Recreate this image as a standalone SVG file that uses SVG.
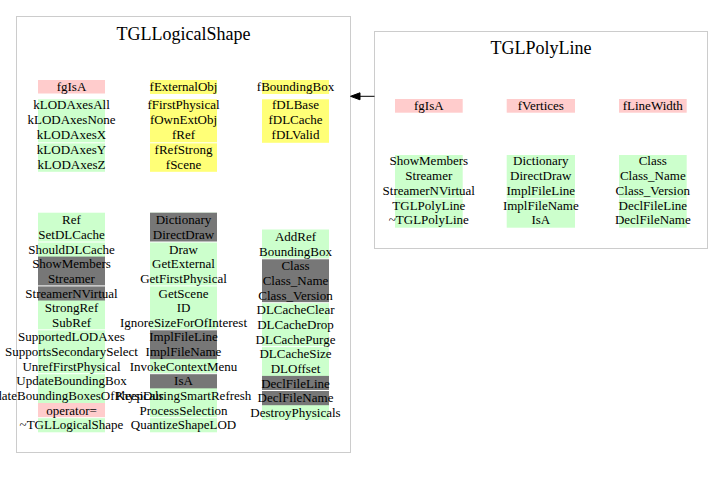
<svg xmlns="http://www.w3.org/2000/svg" width="723" height="480" viewBox="0 0 723 480">
<style>
.box{fill:#ffffff;stroke:#cccccc;stroke-width:1}
.pk{fill:#ffcccc}
.gr{fill:#ccffcc}
.ye{fill:#ffff77}
.dk{fill:#777777}
.sep{fill:#ffffff}
text{font-family:"Liberation Serif","Times New Roman",serif;fill:#000000;text-anchor:middle}
.t{font-size:13px}
.title{font-size:18px}
.edge{stroke:#000000;stroke-width:1;fill:none}
.head{fill:#000000;stroke:#000000;stroke-width:1}
</style>
<rect x="0" y="0" width="723" height="480" fill="#ffffff"/>
<g id="TGLLogicalShape">
<rect class="box" x="16.5" y="16.5" width="334" height="436"/>
<text class="title" x="183.5" y="39.5">TGLLogicalShape</text>
<rect class="pk" x="38" y="80" width="67" height="13.5"/>
<rect class="ye" x="150" y="80" width="67" height="14"/>
<rect class="ye" x="262" y="80" width="67" height="14"/>
<text class="t" x="71.5" y="91.2">fgIsA</text>
<text class="t" x="183.5" y="91.4">fExternalObj</text>
<text class="t" x="295.5" y="91.4">fBoundingBox</text>
<rect class="gr" x="38" y="99.3" width="67" height="72.5"/>
<rect class="sep" x="38" y="142.3" width="67" height="1"/>
<rect class="ye" x="150" y="99.3" width="67" height="72.5"/>
<rect class="sep" x="150" y="142.3" width="67" height="1"/>
<rect class="ye" x="262" y="99.3" width="67" height="43.5"/>
<text class="t" x="71.5" y="108.6">kLODAxesAll</text>
<text class="t" x="71.5" y="123.6">kLODAxesNone</text>
<text class="t" x="71.5" y="138.6">kLODAxesX</text>
<text class="t" x="71.5" y="153.6">kLODAxesY</text>
<text class="t" x="71.5" y="168.6">kLODAxesZ</text>
<text class="t" x="183.5" y="108.6">fFirstPhysical</text>
<text class="t" x="183.5" y="123.6">fOwnExtObj</text>
<text class="t" x="183.5" y="138.6">fRef</text>
<text class="t" x="183.5" y="153.6">fRefStrong</text>
<text class="t" x="183.5" y="168.6">fScene</text>
<text class="t" x="295.5" y="108.6">fDLBase</text>
<text class="t" x="295.5" y="123.6">fDLCache</text>
<text class="t" x="295.5" y="138.6">fDLValid</text>
<rect class="gr" x="38" y="212.7" width="67" height="219.6"/>
<rect class="dk" x="38" y="256.6" width="67" height="43.9"/>
<rect class="pk" x="38" y="403" width="67" height="14.64"/>
<rect class="sep" x="38" y="241.5" width="67" height="1"/>
<rect class="sep" x="38" y="285.4" width="67" height="1"/>
<rect class="sep" x="38" y="329.3" width="67" height="1"/>
<rect class="sep" x="38" y="373.2" width="67" height="1"/>
<rect class="sep" x="38" y="417.2" width="67" height="1"/>
<rect class="gr" x="150" y="212.7" width="67" height="219.6"/>
<rect class="dk" x="150" y="212.7" width="67" height="29.3"/>
<rect class="dk" x="150" y="329.8" width="67" height="29.3"/>
<rect class="dk" x="150" y="373.7" width="67" height="14.64"/>
<rect class="sep" x="150" y="241.5" width="67" height="1"/>
<rect class="sep" x="150" y="285.4" width="67" height="1"/>
<rect class="sep" x="150" y="329.3" width="67" height="1"/>
<rect class="sep" x="150" y="373.2" width="67" height="1"/>
<rect class="sep" x="150" y="417.2" width="67" height="1"/>
<rect class="gr" x="262" y="229.5" width="67" height="190.3"/>
<rect class="dk" x="262" y="258.8" width="67" height="43.9"/>
<rect class="dk" x="262" y="375.9" width="67" height="29.3"/>
<rect class="sep" x="262" y="258.3" width="67" height="1"/>
<rect class="sep" x="262" y="302.2" width="67" height="1"/>
<rect class="sep" x="262" y="346.1" width="67" height="1"/>
<rect class="sep" x="262" y="390" width="67" height="1"/>
<text class="t" x="71.5" y="224.3">Ref</text>
<text class="t" x="71.5" y="238.9">SetDLCache</text>
<text class="t" x="71.5" y="253.6">ShouldDLCache</text>
<text class="t" x="71.5" y="268.2">ShowMembers</text>
<text class="t" x="71.5" y="282.9">Streamer</text>
<text class="t" x="71.5" y="297.5">StreamerNVirtual</text>
<text class="t" x="71.5" y="312.1">StrongRef</text>
<text class="t" x="71.5" y="326.8">SubRef</text>
<text class="t" x="71.5" y="341.4">SupportedLODAxes</text>
<text class="t" x="71.5" y="356.1">SupportsSecondarySelect</text>
<text class="t" x="71.5" y="370.7">UnrefFirstPhysical</text>
<text class="t" x="71.5" y="385.3">UpdateBoundingBox</text>
<text class="t" x="71.5" y="400">UpdateBoundingBoxesOfPhysicals</text>
<text class="t" x="71.5" y="414.6">operator=</text>
<text class="t" x="71.5" y="429.3">~TGLLogicalShape</text>
<text class="t" x="183.5" y="224.3">Dictionary</text>
<text class="t" x="183.5" y="238.9">DirectDraw</text>
<text class="t" x="183.5" y="253.6">Draw</text>
<text class="t" x="183.5" y="268.2">GetExternal</text>
<text class="t" x="183.5" y="282.9">GetFirstPhysical</text>
<text class="t" x="183.5" y="297.5">GetScene</text>
<text class="t" x="183.5" y="312.1">ID</text>
<text class="t" x="183.5" y="326.8">IgnoreSizeForOfInterest</text>
<text class="t" x="183.5" y="341.4">ImplFileLine</text>
<text class="t" x="183.5" y="356.1">ImplFileName</text>
<text class="t" x="183.5" y="370.7">InvokeContextMenu</text>
<text class="t" x="183.5" y="385.3">IsA</text>
<text class="t" x="183.5" y="400">KeepDuringSmartRefresh</text>
<text class="t" x="183.5" y="414.6">ProcessSelection</text>
<text class="t" x="183.5" y="429.3">QuantizeShapeLOD</text>
<text class="t" x="295.5" y="241.1">AddRef</text>
<text class="t" x="295.5" y="255.7">BoundingBox</text>
<text class="t" x="295.5" y="270.4">Class</text>
<text class="t" x="295.5" y="285">Class_Name</text>
<text class="t" x="295.5" y="299.7">Class_Version</text>
<text class="t" x="295.5" y="314.3">DLCacheClear</text>
<text class="t" x="295.5" y="328.9">DLCacheDrop</text>
<text class="t" x="295.5" y="343.6">DLCachePurge</text>
<text class="t" x="295.5" y="358.2">DLCacheSize</text>
<text class="t" x="295.5" y="372.9">DLOffset</text>
<text class="t" x="295.5" y="387.5">DeclFileLine</text>
<text class="t" x="295.5" y="402.1">DeclFileName</text>
<text class="t" x="295.5" y="416.8">DestroyPhysicals</text>
</g>
<g id="TGLPolyLine">
<rect class="box" x="374.5" y="31.5" width="333" height="217"/>
<text class="title" x="541" y="54">TGLPolyLine</text>
<rect class="pk" x="395" y="99" width="67.7" height="13.7"/>
<rect class="pk" x="506.7" y="99" width="68.3" height="13.7"/>
<rect class="pk" x="619" y="99" width="67.7" height="13.7"/>
<text class="t" x="428.8" y="110.2">fgIsA</text>
<text class="t" x="540.8" y="110.2">fVertices</text>
<text class="t" x="652.8" y="110.2">fLineWidth</text>
<rect class="gr" x="395" y="155" width="67.7" height="72.7"/>
<rect class="gr" x="506.7" y="155" width="68.3" height="72.7"/>
<rect class="gr" x="619" y="155" width="67.7" height="72.7"/>
<rect class="sep" x="395" y="198.3" width="67.7" height="1"/>
<rect class="sep" x="506.7" y="198.3" width="68.3" height="1"/>
<rect class="sep" x="619" y="198.3" width="67.7" height="1"/>
<text class="t" x="428.8" y="165.4">ShowMembers</text>
<text class="t" x="428.8" y="180.1">Streamer</text>
<text class="t" x="428.8" y="194.8">StreamerNVirtual</text>
<text class="t" x="428.8" y="209.5">TGLPolyLine</text>
<text class="t" x="428.8" y="224.2">~TGLPolyLine</text>
<text class="t" x="540.8" y="165.4">Dictionary</text>
<text class="t" x="540.8" y="180.1">DirectDraw</text>
<text class="t" x="540.8" y="194.8">ImplFileLine</text>
<text class="t" x="540.8" y="209.5">ImplFileName</text>
<text class="t" x="540.8" y="224.2">IsA</text>
<text class="t" x="652.8" y="165.4">Class</text>
<text class="t" x="652.8" y="180.1">Class_Name</text>
<text class="t" x="652.8" y="194.8">Class_Version</text>
<text class="t" x="652.8" y="209.5">DeclFileLine</text>
<text class="t" x="652.8" y="224.2">DeclFileName</text>
</g>
<g id="connectors">
<line class="edge" x1="374.5" y1="96.3" x2="359" y2="96.3"/>
<polygon class="head" points="350.5,96.3 360,92.8 360,99.8"/>
</g>
</svg>
